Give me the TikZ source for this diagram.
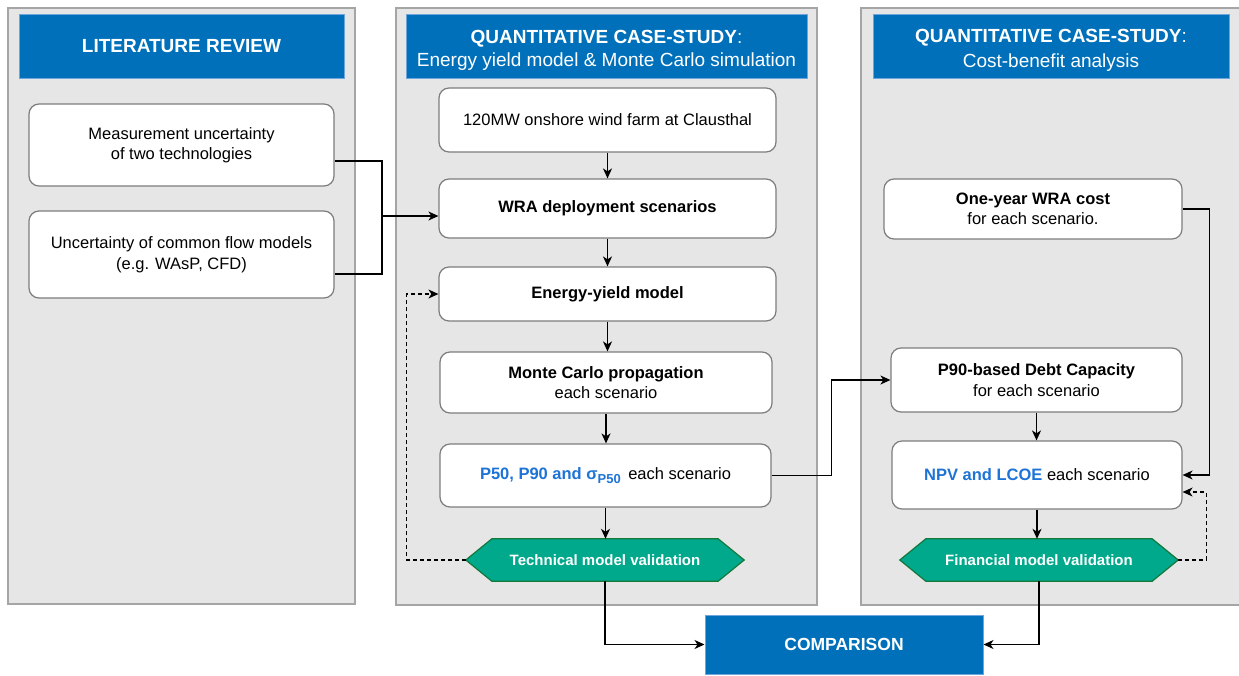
\documentclass[tikz,border=0pt]{standalone}
\usepackage{fontspec}
\setmainfont{Liberation Sans}
\usetikzlibrary{arrows.meta,calc}
\definecolor{hblue}{RGB}{0,112,186}
\definecolor{hedge}{RGB}{110,165,220}
\definecolor{pfill}{RGB}{230,230,230}
\definecolor{pedge}{RGB}{165,165,165}
\definecolor{bedge}{RGB}{125,125,125}
\definecolor{hexfill}{RGB}{0,168,140}
\definecolor{hexedge}{RGB}{20,120,60}
\definecolor{tblue}{RGB}{30,115,215}
\pgfdeclarelayer{bg}
\pgfdeclarelayer{mid}
\pgfsetlayers{bg,mid,main}
\tikzset{
  panel/.style={draw=pedge, fill=pfill, line width=1.2pt, inner sep=0pt},
  header/.style={draw=hedge, fill=hblue, text=white, line width=1pt, align=center,
    font=\fontsize{19}{23}\selectfont, inner sep=0pt},
  box/.style={draw=bedge, fill=white, rounded corners=10pt, line width=1.2pt, align=center,
    font=\fontsize{16.5}{20.5}\selectfont, inner sep=0pt},
  hexlabel/.style={text=white, font=\bfseries\fontsize{15}{18}\selectfont, inner sep=0pt,
    minimum width=278pt, minimum height=42pt},
  hexshape/.style={fill=hexfill, draw=hexedge, line width=1.2pt},
  conn/.style={draw=black, line width=1.3pt},
  arrow/.style={conn, -{Stealth[length=10pt,width=9pt,inset=3pt]}},
  dasharrow/.style={arrow, dash pattern=on 4pt off 3pt},
}
\newcommand\hexbg[1]{%
  \begin{pgfonlayer}{mid}
  \path[hexshape] (#1.west) -- ($(#1.north west)+(26,0)$) -- ($(#1.north east)+(-26,0)$)
    -- (#1.east) -- ($(#1.south east)+(-26,0)$) -- ($(#1.south west)+(26,0)$) -- cycle;
  \end{pgfonlayer}}
\begin{document}
\begin{tikzpicture}[x=1pt, y=-1pt]
\useasboundingbox (0,0) rectangle (1239,675);
\begin{pgfonlayer}{bg}
\node[panel, minimum width=347pt, minimum height=596pt] (p1) at (181.5,306) {};
\node[panel, minimum width=421pt, minimum height=597pt] (p2) at (606.5,306.5) {};
\node[panel, minimum width=384pt, minimum height=597pt] (p3) at (1053,306.5) {};
\end{pgfonlayer}

% headers
\node[header, minimum width=325pt, minimum height=64pt] (h1) at (181.5,46) {\bfseries LITERATURE REVIEW};
\node[header, minimum width=401pt, minimum height=64pt] (h2) at (606.5,46)
  {\rule{0pt}{22pt}{\bfseries QUANTITATIVE CASE-STUDY}:\\Energy yield model \& Monte Carlo simulation};
\node[header, minimum width=356pt, minimum height=64pt] (h3) at (1051,46)
  {\rule{0pt}{22pt}{\bfseries QUANTITATIVE CASE-STUDY}:\\[2pt]Cost-benefit analysis};

% literature boxes
\node[box, minimum width=305pt, minimum height=82pt] (a1) at (181.5,145)
  {Measurement uncertainty\\of two technologies};
\node[box, minimum width=305pt, minimum height=87pt] (a2) at (181.5,254.5)
  {Uncertainty of common flow models\\(e.g. WAsP, CFD)};

% energy yield column
\node[box, minimum width=337pt, minimum height=64pt] (b1) at (607.5,120)
  {120MW onshore wind farm at Clausthal};
\node[box, minimum width=337pt, minimum height=59pt] (b2) at (607.5,208.5)
  {\bfseries WRA deployment scenarios};
\node[box, minimum width=337pt, minimum height=54pt] (b3) at (607.5,294)
  {\bfseries Energy-yield model};
\node[box, minimum width=332pt, minimum height=61pt] (b4) at (606,382.5)
  {{\bfseries Monte Carlo propagation}\\each scenario};
\node[box, minimum width=331pt, minimum height=63pt] (b5) at (605.5,475.5)
  {{\color{tblue}\bfseries P50, P90 and σ\raisebox{-4pt}{\fontsize{13}{13}\selectfont P50}}\hspace{0.45em}each scenario};
\node[hexlabel] (b6) at (605,560) {Technical model validation};
\hexbg{b6}

% cost-benefit column
\node[box, minimum width=298pt, minimum height=60pt] (c1) at (1033,209)
  {{\bfseries One-year WRA cost}\\for each scenario.};
\node[box, minimum width=291pt, minimum height=64pt] (c2) at (1036.5,380)
  {{\bfseries P90-based Debt Capacity}\\for each scenario};
\node[box, minimum width=290pt, minimum height=68pt] (c3) at (1037,475)
  {{\color{tblue}\bfseries NPV and LCOE} each scenario};
\node[hexlabel] (c4) at (1039,560) {Financial model validation};
\hexbg{c4}

% comparison
\node[header, minimum width=278pt, minimum height=59pt, font=\bfseries\fontsize{17.5}{21}\selectfont] (comp) at (844,644.5) {COMPARISON};

% connectors
\coordinate (jn) at (382,216);
\draw[conn] ($(a1.east)+(0,16)$) -| (jn);
\draw[conn] ($(a2.east)+(0,19.5)$) -| (jn);
\draw[arrow] (jn) -- (b2.west |- jn);

\draw[arrow] (b1.south) -- (b2.north);
\draw[arrow] (b2.south) -- (b3.north);
\draw[arrow] (b3.south) -- (b3.south |- b4.north);
\draw[arrow] (b4.south) -- (b4.south |- b5.north);
\draw[arrow] (b5.south) -- (b5.south |- b6.north);
\draw[dasharrow] (b6.west) -- ++(-59,0) |- (b3.west);
\draw[arrow] (b6.south) |- (comp.west);

\draw[arrow] (b5.east) -- ++(60,0) |- (c2.west);
\draw[arrow] (c1.east) -- ++(27,0) |- (c3.east);
\draw[arrow] (c2.south) -- (c2.south |- c3.north);
\draw[arrow] (c3.south) -- (c3.south |- c4.north);
\draw[dasharrow] (c4.east) -- ++(28,0) |- ($(c3.east)+(0,17)$);
\draw[arrow] (c4.south) |- (comp.east);
\end{tikzpicture}
\end{document}
